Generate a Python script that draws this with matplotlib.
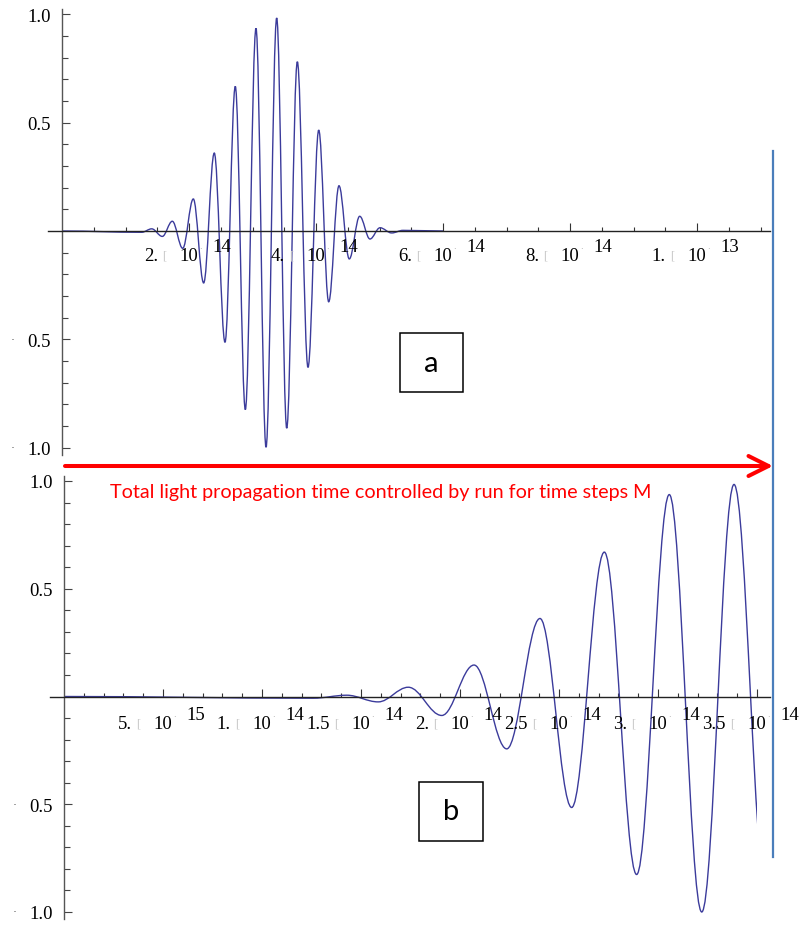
import numpy as np
import matplotlib
matplotlib.use('Agg')
import matplotlib.pyplot as plt
from matplotlib.path import Path
from matplotlib.patches import PathPatch, Rectangle, FancyArrowPatch
from matplotlib.lines import Line2D

# time axis in units of 1e-14 s, field normalised to 1
# panel a: extrema of the full pulse
t_a = [0.0, 1.255, 1.413, 1.580, 1.737, 1.901, 2.068, 2.231, 2.398, 2.567, 2.729,
       2.887, 3.055, 3.213, 3.381, 3.539, 3.706, 3.874, 4.043, 4.200, 4.362,
       4.524, 4.688, 4.850, 5.008, 5.192, 5.370, 6.0]
e_a = [0.0, -0.006, 0.010, -0.025, 0.045, -0.080, 0.148, -0.240, 0.360, -0.514, 0.668,
       -0.825, 0.936, -0.999, 0.984, -0.911, 0.782, -0.630, 0.466, -0.327, 0.209,
       -0.129, 0.068, -0.037, 0.015, -0.009, 0.003, 0.0]

# panel b: same pulse, cut at the end of the run
t_b = [0.0, 1.258, 1.428, 1.587, 1.739, 1.908, 2.071, 2.236, 2.404, 2.564, 2.729,
       2.892, 3.057, 3.221, 3.384, 3.547]
e_b = [0.0, -0.008, 0.006, -0.025, 0.043, -0.088, 0.146, -0.243, 0.362, -0.515, 0.670,
       -0.826, 0.937, -1.000, 0.984, -0.911]
t_end_b = 3.498

# tick labels (the x and minus glyphs are broken in the original)
a_ticks = [2, 4, 6, 8, 10]
a_mant = ['2.', '4.', '6.', '8.', '1.']
a_exp = ['14', '14', '14', '14', '13']
a_minor = [0.5, 1, 1.5, 2.5, 3, 3.5, 4.5, 5, 5.5, 6.5, 7, 7.5, 8.5, 9, 9.5, 10.5, 11]

b_ticks = [0.5, 1.0, 1.5, 2.0, 2.5, 3.0, 3.5]
b_mant = ['5.', '1.', '1.5', '2.', '2.5', '3.', '3.5']
b_exp = ['15', '14', '14', '14', '14', '14', '14']
b_minor = [round(0.1 * i, 1) for i in range(1, 36) if i % 5 != 0]

y_ticks = [-1.0, -0.5, 0.5, 1.0]
y_labels = ['1.0', '0.5', '0.5', '1.0']
y_minor = [-0.9, -0.8, -0.7, -0.6, -0.4, -0.3, -0.2, -0.1,
           0.1, 0.2, 0.3, 0.4, 0.6, 0.7, 0.8, 0.9]

note = 'Total light propagation time controlled by run for time steps M'

W, H = 810, 928
serif = 'Liberation Serif'
sans = 'Lato'
wave_color = '#3b3b9b'
fs = 13.5


def fx(px):
    return px / W


def fy(py):
    return 1 - py / H


def wave_path(t, v):
    # smooth curve through the extrema, flat tangents at each one
    verts = [(t[0], v[0])]
    codes = [Path.MOVETO]
    for i in range(1, len(t)):
        d = 0.364 * (t[i] - t[i - 1])
        verts += [(t[i - 1] + d, v[i - 1]), (t[i] - d, v[i]), (t[i], v[i])]
        codes += [Path.CURVE4] * 3
    return Path(verts, codes)


def setup(ax, xmaj, xmin):
    ax.patch.set_visible(False)
    for s in ['top', 'right']:
        ax.spines[s].set_visible(False)
    ax.spines['left'].set_position(('data', 0))
    ax.spines['bottom'].set_position(('data', 0))
    ax.spines['bottom'].set_color('#222222')
    ax.spines['left'].set_color('#555555')
    ax.spines['bottom'].set_linewidth(1.0)
    ax.spines['left'].set_linewidth(1.0)
    ax.set_xticks(xmaj)
    ax.set_xticks(xmin, minor=True)
    ax.set_xticklabels([])
    ax.set_yticks(y_ticks)
    ax.set_yticklabels(y_labels)
    ax.set_yticks(y_minor, minor=True)
    ax.tick_params(axis='x', which='major', direction='in', length=5.5, width=0.8, color='#333333')
    ax.tick_params(axis='x', which='minor', direction='in', length=3.2, width=0.8, color='#333333')
    ax.tick_params(axis='y', which='major', direction='in', length=6, width=0.8, color='#444444',
                   pad=8, labelsize=fs)
    ax.tick_params(axis='y', which='minor', direction='in', length=4, width=0.8, color='#444444')
    for lab in ax.get_yticklabels():
        lab.set_fontfamily(serif)
    # lost minus signs show as small dots far left
    for y in [-1.0, -0.5]:
        ax.annotate('·', xy=(0, y), xycoords='data', xytext=(-49 * 0.72, 0),
                    textcoords='offset points', ha='center', va='center',
                    fontsize=9, color='#666666', annotation_clip=False)


def sci_labels(ax, ticks, mants, exps, dy_base, dy_exp):
    for x, m, e in zip(ticks, mants, exps):
        common = dict(xy=(x, 0), xycoords='data', textcoords='offset points',
                      va='center', annotation_clip=False)
        ax.annotate(m, xytext=(-31 * 0.72, -dy_base * 0.72), ha='right',
                    fontfamily=serif, fontsize=fs, **common)
        ax.annotate('[', xytext=(-25 * 0.72, -dy_base * 0.72), ha='center',
                    fontfamily=serif, fontsize=9, color='#c8c8c8', **common)
        ax.annotate('10', xytext=(0, -dy_base * 0.72), ha='center',
                    fontfamily=serif, fontsize=fs, **common)
        ax.annotate('·', xytext=(11 * 0.72, -(dy_base - 7) * 0.72), ha='center',
                    fontsize=6, color='#999999', **common)
        ax.annotate(e, xytext=(23 * 0.72, -dy_exp * 0.72), ha='left',
                    fontfamily=serif, fontsize=fs, **common)


fig = plt.figure(figsize=(W / 100, H / 100), dpi=100)

# panel a
ax_a = fig.add_axes([fx(48), fy(456), (770 - 48) / W, (456 - 10) / H])
ax_a.set_xlim((48 - 62) / 63.5, (770 - 62) / 63.5)
ax_a.set_ylim((232 - 456) / 216.5, (232 - 10) / 216.5)
setup(ax_a, a_ticks, a_minor)
ax_a.add_patch(PathPatch(wave_path(t_a, e_a), fill=False, ec=wave_color, lw=1.0, zorder=2))
sci_labels(ax_a, a_ticks, a_mant, a_exp, 25, 16)

# panel b
ax_b = fig.add_axes([fx(50), fy(920), (770 - 50) / W, (920 - 477) / H])
ax_b.set_xlim((50 - 64) / 198.0, (770 - 64) / 198.0)
ax_b.set_ylim((697.5 - 920) / 215.5, (697.5 - 477) / 215.5)
setup(ax_b, b_ticks, b_minor)
wave_b = PathPatch(wave_path(t_b, e_b), fill=False, ec=wave_color, lw=1.0, zorder=2)
ax_b.add_patch(wave_b)
wave_b.set_clip_path(Rectangle((-1, -2), t_end_b + 1, 4, transform=ax_b.transData))
sci_labels(ax_b, b_ticks, b_mant, b_exp, 27, 18)

# annotations
fig.add_artist(Line2D([fx(773), fx(773)], [fy(152), fy(858)], transform=fig.transFigure,
                      color='#4a7ebb', lw=1.6))
fig.add_artist(FancyArrowPatch(posA=(fx(65), fy(467)), posB=(fx(773), fy(467)),
                               transform=fig.transFigure,
                               arrowstyle='->,head_length=0.72,head_width=0.36',
                               mutation_scale=20, lw=2.9, color='red',
                               shrinkA=0, shrinkB=0))
fig.text(fx(110), fy(493), note, color='red', fontfamily=sans, fontsize=14.2,
         ha='left', va='center')

for (x0, y0, x1, y1), letter in [((400, 334, 463, 393), 'a'), ((419, 783, 483, 842), 'b')]:
    fig.add_artist(Rectangle((fx(x0), fy(y1)), (x1 - x0) / W, (y1 - y0) / H,
                             transform=fig.transFigure, fill=False, ec='black', lw=1.1))
    fig.text(fx((x0 + x1) / 2), fy((y0 + y1) / 2), letter, fontfamily=sans, fontsize=21,
             ha='center', va='center')

fig.savefig('out.png', dpi=100)
